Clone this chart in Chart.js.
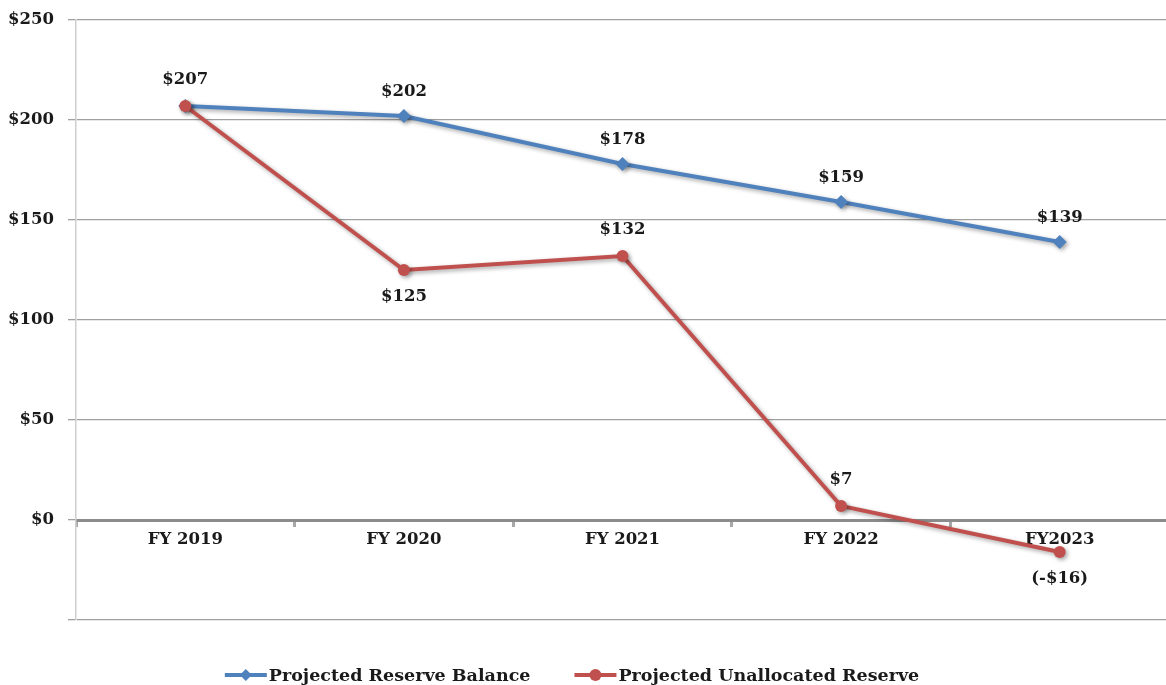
<!DOCTYPE html>
<html>
<head>
<meta charset="utf-8">
<script src="https://cdn.jsdelivr.net/npm/chart.js@4.4.1/dist/chart.umd.min.js"></script>
<style>
html,body{margin:0;padding:0;background:#fff;overflow:hidden;width:1166px;height:685px}
#wrap{width:1176px;height:685px;position:relative}
</style>
</head>
<body>
<div id="wrap"><canvas id="chart"></canvas></div>
<script>
// ---- data
var categories = ['FY 2019', 'FY 2020', 'FY 2021', 'FY 2022', 'FY2023'];
var reserveBalance = [207, 202, 178, 159, 139];
var unallocatedReserve = [207, 125, 132, 7, -16];
// value labels as printed ($207 is printed only once for both lines)
var balanceLabels = ['', '$202', '$178', '$159', '$139'];
var unallocatedLabels = ['$207', '$125', '$132', '$7', '(-$16)'];
var unallocatedSide = ['above', 'below', 'above', 'above', 'below'];
var yMin = -50, yMax = 250, yStep = 50;

var FONT = '"DejaVu Serif", serif';
var BLUE = '#4f81bd', RED = '#c0504d';

// value labels drawn next to points, shadow under the lines, legend
var valueLabels = {
	id: 'valueLabels',
	beforeDatasetsDraw: function(chart){
		var c = chart.ctx;
		c.save();
		c.shadowColor = 'rgba(0,0,0,0.35)';
		c.shadowBlur = 4;
		c.shadowOffsetX = 2;
		c.shadowOffsetY = 2;
	},
	afterDatasetsDraw: function(chart){
		var c = chart.ctx;
		c.restore();
		c.save();
		c.font = 'bold 16.5px ' + FONT;
		c.fillStyle = '#1a1a1a';
		c.textAlign = 'center';
		c.textBaseline = 'middle';
		var mb = chart.getDatasetMeta(0), mr = chart.getDatasetMeta(1);
		for(var i = 0;i<categories.length;i++){
			if(balanceLabels[i]){
				c.fillText(balanceLabels[i], mb.data[i].x, mb.data[i].y - 24);
			}
			if(unallocatedLabels[i]){
				var dy = unallocatedSide[i]=='below' ? 27 : -26;
				c.fillText(unallocatedLabels[i], mr.data[i].x, mr.data[i].y + dy);
			}
		}
		c.restore();
	},
	afterDraw: function(chart){
		var c = chart.ctx;
		c.save();
		c.font = 'bold 17.5px ' + FONT;
		c.textBaseline = 'middle';
		var ds = chart.data.datasets;
		var markW = 42, gap = 2, spacing = 44;
		var total = 0;
		for(var i = 0;i<ds.length;i++){
			total += markW + gap + c.measureText(ds[i].label).width;
		}
		total += spacing*(ds.length-1);
		var x = 572 - total/2, y = 675;
		for(var i = 0;i<ds.length;i++){
			c.strokeStyle = ds[i].borderColor;
			c.lineWidth = 4;
			c.beginPath();c.moveTo(x, y);c.lineTo(x+markW, y);c.stroke();
			c.fillStyle = ds[i].borderColor;
			c.beginPath();
			if(ds[i].pointStyle=='rectRot'){
				c.moveTo(x+markW/2, y-6);c.lineTo(x+markW/2+6, y);c.lineTo(x+markW/2, y+6);c.lineTo(x+markW/2-6, y);
			}else{
				c.arc(x+markW/2, y, 6, 0, Math.PI*2);
			}
			c.fill();
			c.fillStyle = '#1a1a1a';
			c.fillText(ds[i].label, x+markW+gap, y+1);
			x += markW + gap + c.measureText(ds[i].label).width + spacing;
		}
		c.restore();
	}
};

var ctx = document.getElementById('chart').getContext('2d');
window.chart = new Chart(ctx, {
	type: 'line',
	data: {
		labels: categories,
		datasets: [{
			label: 'Projected Reserve Balance',
			data: reserveBalance,
			borderColor: BLUE,
			backgroundColor: BLUE,
			borderWidth: 4,
			pointStyle: 'rectRot',
			pointRadius: 7,
			pointBorderWidth: 0,
			fill: false,
			tension: 0,
			order: 1
		},{
			label: 'Projected Unallocated Reserve',
			data: unallocatedReserve,
			borderColor: RED,
			backgroundColor: RED,
			borderWidth: 4,
			pointStyle: 'circle',
			pointRadius: 6,
			pointBorderWidth: 0,
			fill: false,
			tension: 0,
			order: 0
		}]
	},
	options: {
		responsive: true,
		maintainAspectRatio: false,
		animation: false,
		layout: {padding: {top: 20, right: 0, bottom: 65, left: 0}},
		plugins: {
			legend: {display: false},
			tooltip: {enabled: false}
		},
		scales: {
			x: {
				type: 'category',
				position: {y: 0},
				offset: true,
				grid: {offset: true, drawOnChartArea: false, drawTicks: true, tickLength: 5, color: '#a8a8a8', lineWidth: 3},
				border: {display: true, color: '#8c8c8c', width: 3},
				ticks: {color: '#1a1a1a', font: {family: FONT, size: 16.5, weight: 'bold'}, padding: 5, maxRotation: 0}
			},
			y: {
				min: yMin,
				max: yMax,
				afterFit: function(s){ s.width = 76; s.paddingTop = 0; s.paddingBottom = 0; },
				grid: {color: '#a0a0a0', lineWidth: 1.3, tickLength: 8},
				border: {display: true, color: '#cfcfcf', width: 1.5},
				ticks: {
					stepSize: yStep,
					color: '#1a1a1a',
					padding: 14,
					font: {family: FONT, size: 16.5, weight: 'bold'},
					callback: function(v){ return v < 0 ? '' : '$' + v; }
				}
			}
		}
	},
	plugins: [valueLabels]
});
</script>
</body>
</html>
